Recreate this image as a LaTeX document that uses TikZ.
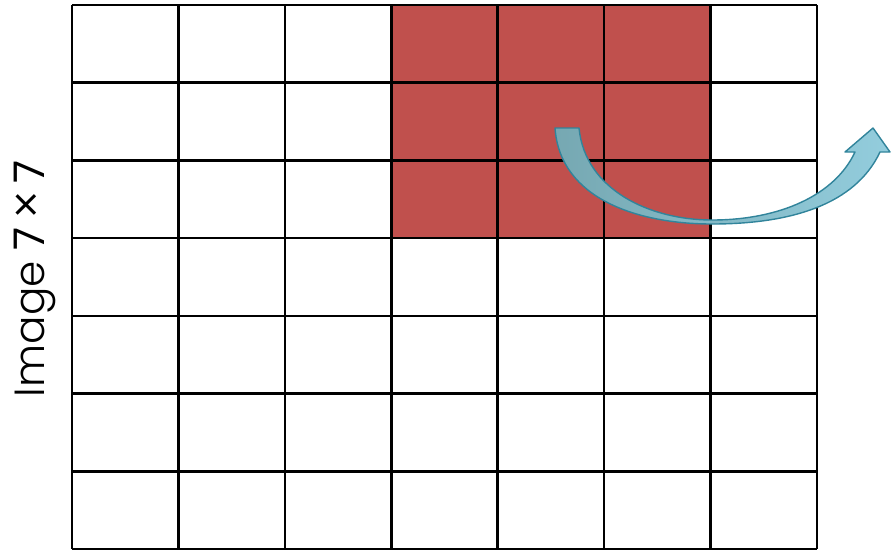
\documentclass[tikz,border=0pt]{standalone}
\usepackage{fontspec}
\setmainfont{Poppins}
\newfontfamily\thinfont{Poppins}[UprightFont=* Light]
\usepackage{tikz}
\usetikzlibrary{positioning}

\definecolor{cellred}{HTML}{C0504D}
\definecolor{arrowdark}{HTML}{76A8B2}
\definecolor{arrowlight}{HTML}{93CDDD}
\definecolor{arrowedge}{HTML}{31849B}

\begin{document}
\begin{tikzpicture}[
    x=0.02cm, y=-0.02cm,
    gridline/.style={draw=black, line width=1.5pt},
    hot/.style={fill=cellred},
    imglabel/.style={rotate=90, font=\fontsize{24}{28}\selectfont},
    curvedarrow/.style={draw=arrowedge, line width=0.8pt, left color=arrowdark, right color=arrowlight, line join=round}
]
\useasboundingbox (0,0) rectangle (891,552);

% Highlighted 3x3 window
\fill[hot] (391.3,5) rectangle (710.6,238.1);

% Image grid 7 x 7
\foreach \i in {0,...,7} {
    \draw[gridline] ({72+\i*106.43},5) -- ({72+\i*106.43},549);
    \draw[gridline] (72,{5+\i*77.71}) -- (817,{5+\i*77.71});
}

% Label
\node[imglabel] (lbl) at (35,279) {{\thinfont Image} 7\,{\thinfont\fontsize{28}{28}\selectfont ×}\,7};

% Curved arrow
\path[curvedarrow] (555,128) -- (579,128)
    .. controls (585,190) and (650,220) .. (712,220)
    .. controls (780,220) and (835,195) .. (855,152)
    -- (845,152) -- (873,128) -- (890,152) -- (880,152)
    .. controls (855,205) and (790,224) .. (712,224)
    .. controls (640,224) and (560,200) .. (555,128) -- cycle;

\end{tikzpicture}
\end{document}
